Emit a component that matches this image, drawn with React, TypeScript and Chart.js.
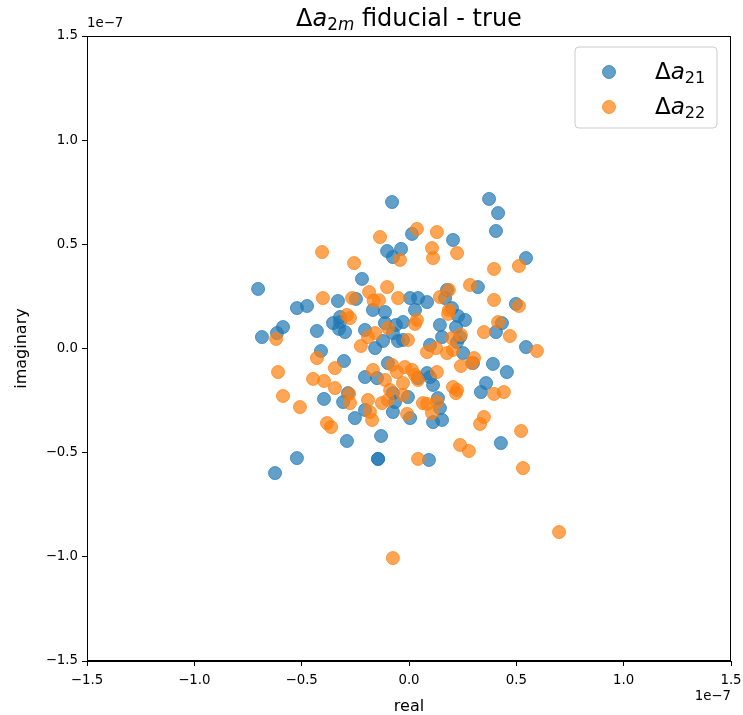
import React, { useEffect, useRef } from "react";
import { Chart, registerables } from "chart.js";

Chart.register(...registerables);

const SCALE = 1e-7;
const TICKS = [-1.5, -1.0, -0.5, 0.0, 0.5, 1.0, 1.5];

const A21_REAL = [
  -0.079, 0.373, 0.415, 0.405, 0.014, 0.205, -0.037, -0.102, -0.075, 0.545,
  -0.219, -0.703, 0.321, 0.177, 0.168, 0.005, 0.042, 0.084, -0.331, -0.247,
  -0.522, -0.475, -0.168, -0.112, 0.028, 0.200, 0.498, 0.228, 0.261, -0.028,
  0.144, 0.219, 0.433, 0.405, 0.154, 0.238, 0.224, -0.028, 0.098, 0.252,
  0.545, 0.298, 0.391, 0.456, 0.084, 0.098, 0.112, 0.359, 0.335, -0.005,
  0.135, 0.144, 0.112, 0.154, 0.005, 0.428, 0.093, -0.354, -0.321, -0.321,
  -0.326, -0.298, -0.587, -0.615, -0.685, -0.429, -0.205, -0.112, -0.061, -0.075,
  -0.051, -0.121, -0.158, -0.410, -0.303, -0.098, -0.205, -0.149, 0.042, -0.075,
  -0.284, -0.307, -0.396, -0.065, -0.205, -0.075, -0.252, -0.130, -0.289, -0.522,
  -0.144, -0.144, -0.624,
];
const A21_IMAG = [
  0.703, 0.718, 0.650, 0.564, 0.550, 0.521, 0.478, 0.468, 0.439, 0.434,
  0.334, 0.286, 0.295, 0.281, 0.242, 0.242, 0.242, 0.223, 0.228, 0.238,
  0.194, 0.204, 0.185, 0.175, 0.185, 0.194, 0.214, 0.156, 0.137, 0.127,
  0.113, 0.103, 0.122, 0.079, 0.055, 0.055, 0.031, 0.041, 0.017, -0.022,
  0.007, -0.070, -0.074, -0.113, -0.118, -0.137, -0.175, -0.166, -0.209, -0.233,
  -0.238, -0.286, -0.353, -0.343, -0.334, -0.454, -0.535, 0.122, 0.127, 0.151,
  0.094, 0.079, 0.103, 0.074, 0.055, 0.084, 0.089, 0.122, 0.113, 0.074,
  0.036, 0.036, 0.002, -0.012, -0.060, -0.070, -0.137, -0.142, -0.142, -0.214,
  -0.214, -0.257, -0.242, -0.257, -0.295, -0.305, -0.334, -0.420, -0.444, -0.526,
  -0.530, -0.530, -0.598,
];

const A22_REAL = [
  -0.135, 0.037, 0.130, -0.405, -0.042, -0.256, 0.107, 0.112, 0.224, 0.512,
  0.396, -0.186, -0.102, -0.401, -0.265, -0.165, -0.140, -0.051, 0.284, 0.186,
  0.144, 0.396, 0.512, 0.186, -0.289, -0.275, 0.037, 0.028, 0.182, 0.415,
  0.349, 0.470, -0.619, -0.098, -0.158, -0.191, -0.224, -0.005, 0.200, 0.242,
  0.084, 0.126, 0.177, 0.205, 0.596, 0.303, 0.293, 0.242, -0.429, -0.610,
  -0.345, -0.447, -0.396, -0.345, -0.168, -0.079, -0.019, 0.014, -0.056, -0.112,
  -0.028, 0.028, 0.042, 0.130, -0.088, 0.205, 0.224, 0.219, 0.396, 0.442,
  -0.587, -0.279, -0.275, -0.508, -0.191, -0.126, -0.098, -0.028, 0.065, 0.084,
  0.130, -0.182, -0.009, 0.107, -0.172, -0.382, -0.363, 0.349, 0.331, 0.522,
  0.238, 0.279, 0.042, 0.531, 0.699, -0.075,
];
const A22_IMAG = [
  0.535, 0.574, 0.559, 0.463, 0.425, 0.410, 0.482, 0.434, 0.458, 0.396,
  0.382, 0.271, 0.295, 0.242, 0.242, 0.230, 0.232, 0.242, 0.305, 0.281,
  0.247, 0.233, 0.204, 0.185, 0.161, 0.146, 0.137, 0.118, 0.166, 0.127,
  0.079, 0.060, 0.046, 0.098, 0.074, 0.055, 0.012, 0.041, 0.050, 0.065,
  -0.017, 0.002, -0.022, -0.007, -0.012, -0.046, -0.070, -0.084, -0.046, -0.113,
  -0.094, -0.146, -0.156, -0.190, -0.103, -0.079, -0.089, -0.103, -0.113, -0.151,
  -0.166, -0.127, -0.151, -0.113, -0.199, -0.185, -0.199, -0.214, -0.218, -0.209,
  -0.228, -0.218, -0.262, -0.281, -0.247, -0.262, -0.247, -0.223, -0.262, -0.266,
  -0.257, -0.305, -0.314, -0.310, -0.343, -0.358, -0.377, -0.329, -0.362, -0.396,
  -0.463, -0.492, -0.530, -0.574, -0.881, -1.006,
];

const SERIES_LABELS = ["21", "22"];
const COLORS = ["rgba(31,119,180,0.7)", "rgba(255,127,14,0.7)"];
const FONT = "DejaVu Sans";

function fmtTick(v: number): string {
  const n = v / SCALE;
  if (Math.abs(n) < 1e-9) return "0.0";
  const s = n.toFixed(1);
  return s.startsWith("-") ? "\u2212" + s.slice(1) : s;
}

type Part = { t: string; italic?: boolean; sub?: boolean };

function drawMath(
  ctx: CanvasRenderingContext2D,
  parts: Part[],
  x: number,
  y: number,
  size: number,
  align: "left" | "center"
) {
  const fontFor = (p: Part) => {
    const s = p.sub ? size * 0.7 : size;
    return `${p.italic ? "italic " : ""}${s}px "${FONT}"`;
  };
  let total = 0;
  const widths: number[] = [];
  for (const p of parts) {
    ctx.font = fontFor(p);
    const w = ctx.measureText(p.t).width;
    widths.push(w);
    total += w;
  }
  let cx = align === "center" ? x - total / 2 : x;
  ctx.textAlign = "left";
  ctx.textBaseline = "alphabetic";
  parts.forEach((p, i) => {
    ctx.font = fontFor(p);
    ctx.fillText(p.t, cx, p.sub ? y + size * 0.16 : y);
    cx += widths[i];
  });
}

const decorPlugin = {
  id: "decor",
  afterDraw(chart: any) {
    const ctx: CanvasRenderingContext2D = chart.ctx;
    const a = chart.chartArea;
    ctx.save();
    // frame
    ctx.strokeStyle = "#000";
    ctx.lineWidth = 1;
    ctx.strokeRect(Math.round(a.left) + 0.5, Math.round(a.top) + 0.5, Math.round(a.right - a.left) - 1, Math.round(a.bottom - a.top) - 1);
    ctx.fillStyle = "#000";
    // title
    drawMath(
      ctx,
      [
        { t: "\u0394" },
        { t: "a", italic: true },
        { t: "2", sub: true },
        { t: "m", sub: true, italic: true },
        { t: " fiducial - true" },
      ],
      (a.left + a.right) / 2,
      26,
      24,
      "center"
    );
    // offset texts
    ctx.font = `13.33px "${FONT}"`;
    ctx.textBaseline = "alphabetic";
    ctx.textAlign = "left";
    ctx.fillText("1e\u22127", a.left, a.top - 9);
    ctx.textAlign = "right";
    ctx.fillText("1e\u22127", a.right, 700);
    // axis labels
    ctx.font = `16px "${FONT}"`;
    ctx.textAlign = "center";
    ctx.fillText("real", (a.left + a.right) / 2, 711);
    ctx.save();
    ctx.translate(26, (a.top + a.bottom) / 2);
    ctx.rotate(-Math.PI / 2);
    ctx.fillText("imaginary", 0, 0);
    ctx.restore();
    // legend
    const lx = 575, ly = 47, lw = 142, lh = 81, r = 4;
    ctx.beginPath();
    ctx.moveTo(lx + r, ly);
    ctx.arcTo(lx + lw, ly, lx + lw, ly + lh, r);
    ctx.arcTo(lx + lw, ly + lh, lx, ly + lh, r);
    ctx.arcTo(lx, ly + lh, lx, ly, r);
    ctx.arcTo(lx, ly, lx + lw, ly, r);
    ctx.closePath();
    ctx.fillStyle = "rgba(255,255,255,0.8)";
    ctx.fill();
    ctx.strokeStyle = "#cccccc";
    ctx.stroke();
    const rows = [72, 107];
    chart.data.datasets.forEach((ds: any, i: number) => {
      ctx.beginPath();
      ctx.arc(609, rows[i], 6.5, 0, Math.PI * 2);
      ctx.fillStyle = ds.backgroundColor;
      ctx.fill();
      ctx.strokeStyle = ds.borderColor;
      ctx.lineWidth = 1;
      ctx.stroke();
      ctx.fillStyle = "#000";
      drawMath(
        ctx,
        [{ t: "\u0394" }, { t: "a", italic: true }, { t: SERIES_LABELS[i], sub: true }],
        655,
        rows[i] + 7,
        23,
        "left"
      );
    });
    ctx.restore();
  },
};

export default function App() {
  const ref = useRef<HTMLCanvasElement | null>(null);
  useEffect(() => {
    if (!ref.current) return;
    const tickFont = { family: FONT, size: 13.33 };
    const chart = new Chart(ref.current, {
      type: "scatter",
      data: {
        datasets: [
          {
            label: "\u0394a21",
            data: A21_REAL.map((x, i) => ({ x: x * SCALE, y: A21_IMAG[i] * SCALE })),
            backgroundColor: COLORS[0],
            borderColor: COLORS[0],
            borderWidth: 1,
            pointRadius: 6.5,
            order: 1,
          },
          {
            label: "\u0394a22",
            data: A22_REAL.map((x, i) => ({ x: x * SCALE, y: A22_IMAG[i] * SCALE })),
            backgroundColor: COLORS[1],
            borderColor: COLORS[1],
            borderWidth: 1,
            pointRadius: 6.5,
            order: 0,
          },
        ],
      },
      options: {
        animation: false,
        responsive: false,
        maintainAspectRatio: false,
        layout: { padding: { left: 0, right: 12, top: 36, bottom: 0 } },
        plugins: {
          legend: { display: false },
          title: { display: false },
          tooltip: { enabled: false },
        },
        scales: {
          x: {
            type: "linear",
            min: -1.5 * SCALE,
            max: 1.5 * SCALE,
            afterBuildTicks: (s: any) => {
              s.ticks = TICKS.map((v) => ({ value: v * SCALE }));
            },
            afterFit: (s: any) => {
              s.height = 54;
              s.paddingLeft = 0;
              s.paddingRight = 0;
            },
            ticks: {
              callback: (v: any) => fmtTick(Number(v)),
              color: "#000",
              font: tickFont,
              maxRotation: 0,
              autoSkip: false,
              padding: 7,
            },
            grid: { drawOnChartArea: false, tickLength: 5, tickColor: "#000", tickWidth: 1 },
            border: { display: true, color: "#000", width: 1 },
          },
          y: {
            type: "linear",
            min: -1.5 * SCALE,
            max: 1.5 * SCALE,
            afterBuildTicks: (s: any) => {
              s.ticks = TICKS.map((v) => ({ value: v * SCALE }));
            },
            afterFit: (s: any) => {
              s.width = 87;
              s.paddingTop = 0;
              s.paddingBottom = 0;
            },
            ticks: {
              callback: (v: any) => fmtTick(Number(v)),
              color: "#000",
              font: tickFont,
              autoSkip: false,
              padding: 4,
            },
            grid: { drawOnChartArea: false, tickLength: 5, tickColor: "#000", tickWidth: 1 },
            border: { display: true, color: "#000", width: 1 },
          },
        },
      },
      plugins: [decorPlugin],
    } as any);
    return () => chart.destroy();
  }, []);
  return (
    <div style={{ position: "absolute", left: 0, top: 0, width: 743, height: 715, background: "#fff" }}>
      <canvas ref={ref} width={743} height={715} style={{ display: "block", width: 743, height: 715 }} />
    </div>
  );
}
